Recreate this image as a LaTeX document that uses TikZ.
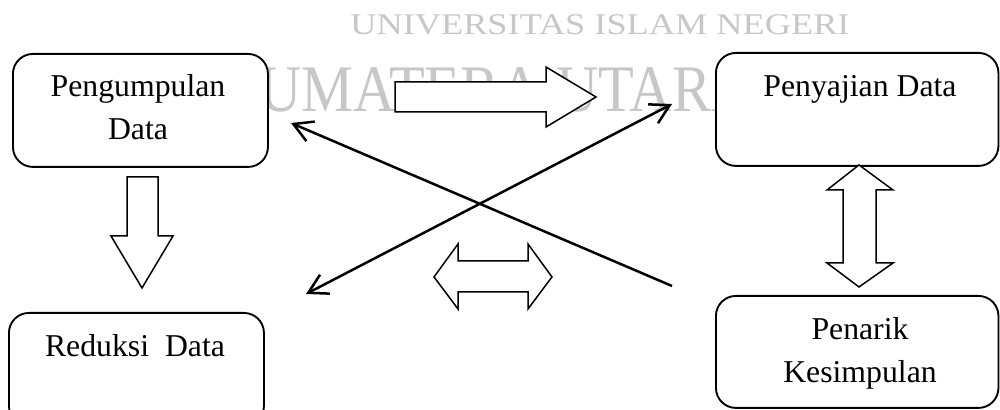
\documentclass[tikz,border=0pt]{standalone}
\usepackage{fontspec}
\setmainfont{Liberation Serif}
\usetikzlibrary{arrows.meta}
\tikzset{barbtip/.tip={Straight Barb[length=7.5pt,width=8.5pt]}}
\begin{document}
\begin{tikzpicture}[x=0.4pt,y=-0.4pt,
  box/.style={draw, line width=0.75pt, rounded corners=8pt, fill=white, inner sep=0pt, anchor=north west},
  lbl/.style={anchor=base, inner sep=0pt, font=\fontsize{12.7}{15}\selectfont},
  blockarrow/.style={draw, line width=0.6pt, fill=white, line join=miter},
  conn/.style={line width=1pt},
  wm/.style={text=black!22, inner sep=0pt, anchor=base}
]
\useasboundingbox (0,0) rectangle (1000,410);
% watermark
\node[wm, font=\fontsize{12}{12}\selectfont] (wm1) at (600,35) {\scalebox{1.21}[1]{UNIVERSITAS ISLAM NEGERI}};
\node[wm, font=\fontsize{26.6}{26.6}\selectfont] (wm2) at (490,112) {\scalebox{0.88}[1]{SUMATERA UTARA}};
% boxes
\node[box, minimum width=102pt, minimum height=45.2pt] (pd) at (12,53) {};
\node[box, minimum width=113pt, minimum height=45.2pt] (sd) at (715,52) {};
\node[box, minimum width=102pt, minimum height=45.2pt] (rd) at (8,312) {};
\node[box, minimum width=113pt, minimum height=44.8pt] (pk) at (715,295) {};
% labels
\node[lbl] (pdt1) at (138,97) {Pengumpulan};
\node[lbl] (pdt2) at (138,140) {Data};
\node[lbl] (sdt) at (860,97) {Penyajian Data};
\node[lbl] (rdt) at (135,357) {Reduksi\ \ Data};
\node[lbl] (pkt1) at (860,340) {Penarik};
\node[lbl] (pkt2) at (860,383) {Kesimpulan};
% block arrows
\draw[blockarrow] (395,82) -- (546,82) -- (546,67) -- (596,97) -- (546,127) -- (546,112) -- (395,112) -- cycle;
\draw[blockarrow] (127,177) -- (158,177) -- (158,236) -- (173,236) -- (142,288) -- (111,236) -- (127,236) -- cycle;
\draw[blockarrow] (859,165) -- (893,190) -- (876,190) -- (876,263) -- (893,263) -- (859,287) -- (827,263) -- (843,263) -- (843,190) -- (827,190) -- cycle;
\draw[blockarrow] (434,277) -- (458,244) -- (458,261) -- (528,261) -- (528,244) -- (552,277) -- (528,309) -- (528,292) -- (458,292) -- (458,309) -- cycle;
% crossing connectors
\coordinate (l1s) at (672,286);
\coordinate (l1e) at (291,123);
\coordinate (l2a) at (306,294);
\coordinate (l2b) at (672,104);
\draw[conn, -barbtip] (l1s) -- (l1e);
\draw[conn, barbtip-barbtip] (l2a) -- (l2b);
\end{tikzpicture}
\end{document}
